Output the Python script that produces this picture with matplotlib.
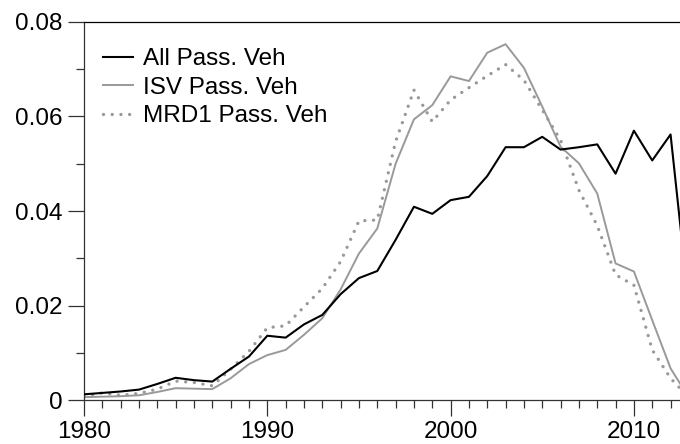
import matplotlib
matplotlib.use("Agg")
import matplotlib.pyplot as plt
from matplotlib.ticker import MultipleLocator, FixedLocator

plt.rcParams['font.family'] = ['Liberation Sans', 'DejaVu Sans']

years = list(range(1980, 2014))
all_pass = [0.0012, 0.0015, 0.0018, 0.0022, 0.0034, 0.0047, 0.0042, 0.0039, 0.0066, 0.0092,
            0.0136, 0.0132, 0.0160, 0.0180, 0.0224, 0.0258, 0.0273, 0.0339, 0.0409, 0.0394,
            0.0423, 0.0430, 0.0474, 0.0535, 0.0535, 0.0557, 0.0530, 0.0535, 0.0541, 0.0479,
            0.0570, 0.0507, 0.0562, 0.0200]
isv_pass = [0.0006, 0.0007, 0.0008, 0.0010, 0.0017, 0.0025, 0.0024, 0.0023, 0.0046, 0.0076,
            0.0095, 0.0106, 0.0138, 0.0173, 0.0234, 0.0310, 0.0363, 0.0500, 0.0594, 0.0624,
            0.0685, 0.0675, 0.0735, 0.0753, 0.0703, 0.0621, 0.0536, 0.0501, 0.0437, 0.0289,
            0.0272, 0.0169, 0.0067, 0.0005]
mrd1_pass = [0.0008, 0.0015, 0.0010, 0.0014, 0.0023, 0.0040, 0.0037, 0.0030, 0.0065, 0.0103,
             0.0153, 0.0157, 0.0197, 0.0236, 0.0293, 0.0379, 0.0381, 0.0547, 0.0656, 0.0589,
             0.0635, 0.0661, 0.0686, 0.0710, 0.0677, 0.0614, 0.0550, 0.0444, 0.0369, 0.0265,
             0.0243, 0.0106, 0.0046, 0.0005]

y_ticks = [0, 0.02, 0.04, 0.06, 0.08]
y_labels = ['0', '0.02', '0.04', '0.06', '0.08']
x_ticks = [1980, 1990, 2000, 2010]
x_labels = ['1980', '1990', '2000', '2010']

fig = plt.figure(figsize=(6.8, 4.44), dpi=100)
ax = fig.add_axes([84/680, 1 - 400/444, 1 - 84/680, (400 - 22)/444])

ax.plot(years, all_pass, color='black', lw=1.5, label='All Pass. Veh', zorder=3)
ax.plot(years, isv_pass, color='#999999', lw=1.4, label='ISV Pass. Veh', zorder=2)
ax.plot(years, mrd1_pass, color='#999999', lw=2.4, linestyle=(0, (0.01, 2.6)),
        dash_capstyle='round', label='MRD1 Pass. Veh', zorder=2)

ax.set_xlim(1980, 1980 + 596/18.33)
ax.set_ylim(0, 0.08)

ax.yaxis.set_major_locator(FixedLocator(y_ticks))
ax.set_yticklabels(y_labels)
ax.yaxis.set_minor_locator(MultipleLocator(0.01))
ax.xaxis.set_major_locator(FixedLocator(x_ticks))
ax.set_xticklabels(x_labels)
ax.xaxis.set_minor_locator(MultipleLocator(1))

ax.tick_params(axis='both', which='major', direction='out', length=11.5, width=0.9,
               labelsize=17.5, color='#333333')
ax.tick_params(axis='both', which='minor', direction='out', length=5.5, width=0.9,
               color='#333333')
ax.tick_params(axis='y', which='major', pad=4)
ax.tick_params(axis='x', which='major', pad=3.5)

for side in ['left', 'bottom', 'top']:
    ax.spines[side].set_color('#333333')
    ax.spines[side].set_linewidth(0.9)
ax.spines['top'].set_color('black')
ax.spines['right'].set_visible(False)

leg = ax.legend(loc='upper left', frameon=False, fontsize=17.5, handlelength=1.25,
                handletextpad=0.42, labelspacing=0.26, borderaxespad=0.25,
                bbox_to_anchor=(0.005, 0.972))

fig.savefig('out.png', dpi=100)
